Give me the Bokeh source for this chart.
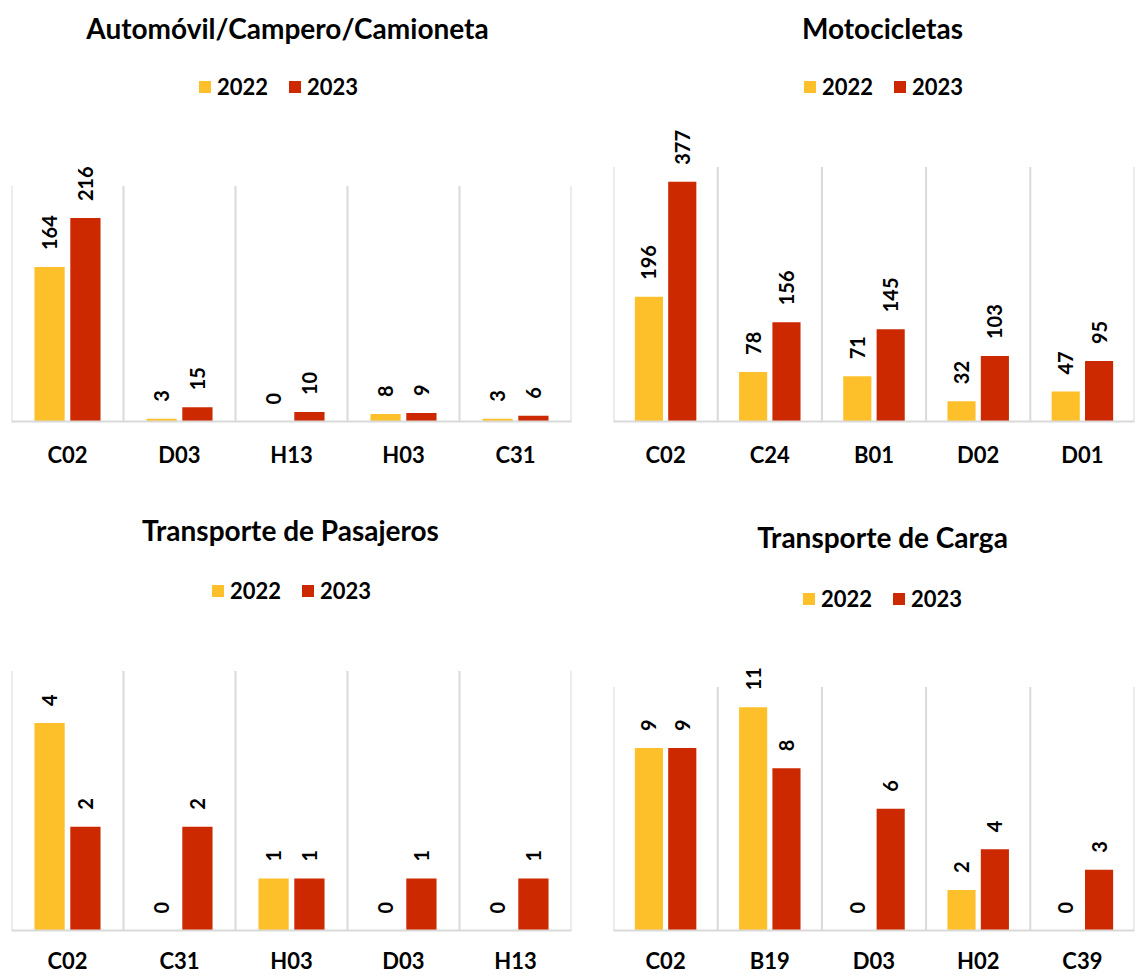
import math
from bokeh.plotting import figure
from bokeh.models import ColumnDataSource, FactorRange, Range1d, Legend, LegendItem, Label
from bokeh.transform import dodge
from bokeh.layouts import column, row
from bokeh.core.properties import value
from bokeh.embed import file_html
from bokeh.resources import INLINE

years = ["2022", "2023"]

auto_cats = ["C02", "D03", "H13", "H03", "C31"]
auto_2022 = [164, 3, 0, 8, 3]
auto_2023 = [216, 15, 10, 9, 6]

moto_cats = ["C02", "C24", "B01", "D02", "D01"]
moto_2022 = [196, 78, 71, 32, 47]
moto_2023 = [377, 156, 145, 103, 95]

pas_cats = ["C02", "C31", "H03", "D03", "H13"]
pas_2022 = [4, 0, 1, 0, 0]
pas_2023 = [2, 2, 1, 1, 1]

carga_cats = ["C02", "B19", "D03", "H02", "C39"]
carga_2022 = [9, 11, 0, 2, 0]
carga_2023 = [9, 8, 6, 4, 3]

YEL = "#FEC02A"
RED = "#CC2900"
GRID = "#D9D9D9"
FONT = "Lato"


def panel(title, cats, v22, v23, ymax, fig_x0, fig_y0, fig_w, fig_h,
          fr_l, fr_r, top_px, base_px, title_xy, leg_left, leg_cy, standoff):
    # frame spans from figure top down to the baseline; ymax sits at top_px
    frame_h = base_px - fig_y0
    y_end = ymax * frame_h / (base_px - top_px)
    p = figure(width=fig_w, height=fig_h, output_backend="svg", toolbar_location=None,
               x_range=FactorRange(*cats, range_padding=0), y_range=Range1d(0, y_end))
    p.min_border_left = fr_l - fig_x0
    p.min_border_right = fig_x0 + fig_w - fr_r
    p.min_border_top = 0
    p.min_border_bottom = fig_y0 + fig_h - base_px
    p.outline_line_color = None
    p.xgrid.visible = False
    p.ygrid.visible = False
    p.yaxis.visible = False
    p.border_fill_color = "white"

    src = ColumnDataSource(dict(cat=cats, v22=v22, v23=v23,
                                l22=[str(v) for v in v22], l23=[str(v) for v in v23],
                                y0=[0] * len(cats), y1=[ymax] * len(cats)))
    last = ColumnDataSource(dict(cat=[cats[-1]], y0=[0], y1=[ymax]))

    p.segment(x0=dodge("cat", -0.5, range=p.x_range), x1=dodge("cat", -0.5, range=p.x_range),
              y0="y0", y1="y1", source=src, line_color=GRID, line_width=2)
    p.segment(x0=dodge("cat", 0.5, range=p.x_range), x1=dodge("cat", 0.5, range=p.x_range),
              y0="y0", y1="y1", source=last, line_color=GRID, line_width=2)

    r22 = p.vbar(x=dodge("cat", -0.16, range=p.x_range), top="v22", width=0.27, source=src,
                 fill_color=YEL, line_color=None)
    r23 = p.vbar(x=dodge("cat", 0.16, range=p.x_range), top="v23", width=0.27, source=src,
                 fill_color=RED, line_color=None)

    for col, lab, off in (("v22", "l22", -0.16), ("v23", "l23", 0.16)):
        p.text(x=dodge("cat", off, range=p.x_range), y=col, text=lab, source=src,
               angle=math.pi / 2, text_align="left", text_baseline="middle",
               y_offset=-17, text_font=value(FONT), text_font_style="bold",
               text_font_size="20px", text_color="black")

    ax = p.xaxis[0]
    ax.axis_line_color = GRID
    ax.axis_line_width = 2
    ax.major_tick_line_color = None
    ax.minor_tick_line_color = None
    ax.major_label_text_font = FONT
    ax.major_label_text_font_style = "bold"
    ax.major_label_text_font_size = "22px"
    ax.major_label_text_color = "black"
    ax.major_label_standoff = standoff

    tx, ty = title_xy
    p.add_layout(Label(x=tx - fr_l, y=base_px - ty, x_units="screen", y_units="screen",
                       text=title, text_align="center", text_baseline="middle",
                       text_font=FONT, text_font_style="bold", text_font_size="28px",
                       text_color="black"))

    leg_h = 26
    legend = Legend(items=[LegendItem(label=years[0], renderers=[r22]),
                           LegendItem(label=years[1], renderers=[r23])],
                    orientation="horizontal",
                    location=(leg_left - fr_l, base_px - (leg_cy + leg_h / 2)),
                    glyph_width=15, glyph_height=15, label_standoff=5, spacing=19,
                    padding=0, margin=0, border_line_color=None,
                    background_fill_alpha=0,
                    label_text_font=FONT, label_text_font_style="bold",
                    label_text_font_size="22px", label_text_color="black")
    p.add_layout(legend, "center")
    return p


TOP_Y0, TOP_H = 0, 470
BOT_Y0, BOT_H = 470, 506
L_X0, L_W = 0, 592
R_X0, R_W = 592, 544

p1 = panel("Automóvil/Campero/Camioneta", auto_cats, auto_2022, auto_2023, 250,
           L_X0, TOP_Y0, L_W, TOP_H, 11, 571, 186, 422, (287, 28), 197, 88, 13)
p2 = panel("Motocicletas", moto_cats, moto_2022, moto_2023, 400,
           R_X0, TOP_Y0, R_W, TOP_H, 613, 1134, 167, 422, (882, 28), 802, 88, 13)
p3 = panel("Transporte de Pasajeros", pas_cats, pas_2022, pas_2023, 5,
           L_X0, BOT_Y0, L_W, BOT_H, 11, 571, 671, 931, (290, 530), 210, 592, 10)
p4 = panel("Transporte de Carga", carga_cats, carga_2022, carga_2023, 12,
           R_X0, BOT_Y0, R_W, BOT_H, 613, 1134, 687, 931, (882, 537), 801, 600, 10)

layout = column(row(p1, p2), row(p3, p4))
open("out.html", "w").write(file_html(layout, INLINE))
